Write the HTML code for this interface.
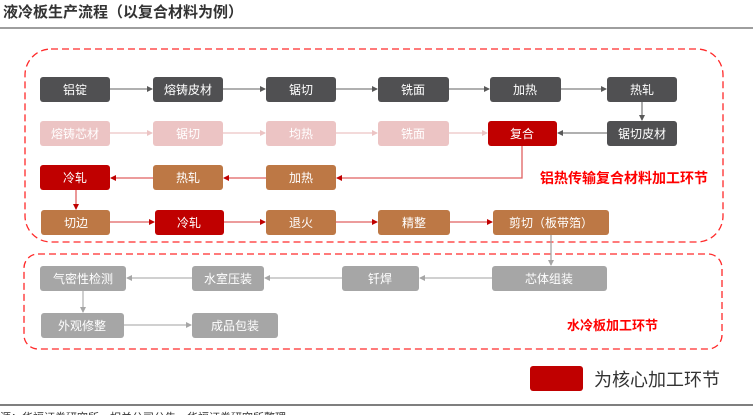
<!DOCTYPE html>
<html><head><meta charset="utf-8"><style>
body{margin:0;width:753px;height:415px;overflow:hidden;background:#fff;font-family:"Liberation Sans","Noto Sans CJK SC",sans-serif}
svg text{font-family:"Liberation Sans","Noto Sans CJK SC",sans-serif}
</style></head><body>
<svg width="753" height="415" viewBox="0 0 753 415" xmlns="http://www.w3.org/2000/svg">
<defs>
<marker id="ag" markerWidth="6" markerHeight="6" refX="5" refY="3" orient="auto" markerUnits="userSpaceOnUse"><path d="M0,0L6,3L0,6z" fill="#595959"/></marker>
<marker id="ap" markerWidth="6" markerHeight="6" refX="5" refY="3" orient="auto" markerUnits="userSpaceOnUse"><path d="M0,0L6,3L0,6z" fill="#ecc4c4"/></marker>
<marker id="ar" markerWidth="6" markerHeight="6" refX="5" refY="3" orient="auto" markerUnits="userSpaceOnUse"><path d="M0,0L6,3L0,6z" fill="#c00000"/></marker>
<marker id="al" markerWidth="6" markerHeight="6" refX="5" refY="3" orient="auto" markerUnits="userSpaceOnUse"><path d="M0,0L6,3L0,6z" fill="#a6a6a6"/></marker>
</defs>
<text x="3" y="17" font-size="15" font-weight="bold" fill="#333">液冷板生产流程（以复合材料为例）</text>
<line x1="0" y1="28" x2="753" y2="28" stroke="#7f7f7f" stroke-width="1.5"/>
<rect x="25" y="49" width="698" height="193" rx="26" fill="none" stroke="#ff2a2a" stroke-width="1.3" stroke-dasharray="7,4"/>
<rect x="24" y="254" width="698" height="95" rx="14" fill="none" stroke="#ff2a2a" stroke-width="1.3" stroke-dasharray="7,4"/>
<g font-size="12" text-anchor="middle">
<g fill="#505052">
<rect x="40" y="77" width="70" height="25" rx="3"/><rect x="153" y="77" width="70" height="25" rx="3"/><rect x="266" y="77" width="70" height="25" rx="3"/><rect x="378" y="77" width="71" height="25" rx="3"/><rect x="490" y="77" width="71" height="25" rx="3"/><rect x="607" y="77" width="70" height="25" rx="3"/><rect x="607" y="121" width="70" height="25" rx="3"/>
</g>
<g fill="#fff"><text x="75" y="94">铝锭</text><text x="188" y="94">熔铸皮材</text><text x="301" y="94">锯切</text><text x="413" y="94">铣面</text><text x="525" y="94">加热</text><text x="642" y="94">热轧</text><text x="642" y="138">锯切皮材</text></g>
<g stroke="#808080" stroke-width="1.3" marker-end="url(#ag)"><line x1="110" y1="89" x2="152" y2="89"/><line x1="223" y1="89" x2="265" y2="89"/><line x1="336" y1="89" x2="377" y2="89"/><line x1="449" y1="89" x2="489" y2="89"/><line x1="561" y1="89" x2="606" y2="89"/><line x1="642" y1="102" x2="642" y2="120"/><line x1="607" y1="133" x2="558" y2="133"/></g>
<g fill="#ecc4c4"><rect x="40" y="121" width="70" height="25" rx="3"/><rect x="153" y="121" width="70" height="25" rx="3"/><rect x="266" y="121" width="70" height="25" rx="3"/><rect x="378" y="121" width="71" height="25" rx="3"/></g>
<g fill="#fff"><text x="75" y="138">熔铸芯材</text><text x="188" y="138">锯切</text><text x="301" y="138">均热</text><text x="413" y="138">铣面</text></g>
<g stroke="#ecc4c4" stroke-width="1.3" marker-end="url(#ap)"><line x1="110" y1="133" x2="152" y2="133"/><line x1="223" y1="133" x2="265" y2="133"/><line x1="336" y1="133" x2="377" y2="133"/><line x1="449" y1="133" x2="487" y2="133"/></g>
<rect x="488" y="121" width="69" height="25" rx="3" fill="#c00000"/><text x="522" y="138" fill="#fff">复合</text>
<polyline points="522,146 522,178 337,178" fill="none" stroke="#e06060" stroke-width="1.3" marker-end="url(#ar)"/>
<rect x="40" y="165" width="70" height="25" rx="3" fill="#c00000"/><rect x="153" y="165" width="70" height="25" rx="3" fill="#bd7845"/><rect x="266" y="165" width="70" height="25" rx="3" fill="#bd7845"/>
<g fill="#fff"><text x="75" y="182">冷轧</text><text x="188" y="182">热轧</text><text x="301" y="182">加热</text></g>
<g stroke="#e06060" stroke-width="1.3" marker-end="url(#ar)"><line x1="266" y1="178" x2="224" y2="178"/><line x1="153" y1="178" x2="111" y2="178"/><line x1="76" y1="190" x2="76" y2="209"/></g>
<rect x="41" y="210" width="69" height="25" rx="3" fill="#bd7845"/><rect x="155" y="210" width="69" height="25" rx="3" fill="#c00000"/><rect x="266" y="210" width="70" height="25" rx="3" fill="#bd7845"/><rect x="378" y="210" width="72" height="25" rx="3" fill="#bd7845"/><rect x="493" y="210" width="116" height="25" rx="3" fill="#bd7845"/>
<g fill="#fff"><text x="76" y="227">切边</text><text x="189" y="227">冷轧</text><text x="301" y="227">退火</text><text x="414" y="227">精整</text><text x="551" y="227">剪切（板带箔）</text></g>
<g stroke="#e06060" stroke-width="1.3" marker-end="url(#ar)"><line x1="110" y1="222" x2="154" y2="222"/><line x1="224" y1="222" x2="265" y2="222"/><line x1="336" y1="222" x2="377" y2="222"/><line x1="450" y1="222" x2="492" y2="222"/></g>
<line x1="551" y1="235" x2="551" y2="265" stroke="#a6a6a6" stroke-width="1.3" marker-end="url(#al)"/>
<g fill="#a6a6a6"><rect x="40" y="266" width="86" height="25" rx="3"/><rect x="192" y="266" width="72" height="25" rx="3"/><rect x="342" y="266" width="77" height="25" rx="3"/><rect x="492" y="266" width="115" height="25" rx="3"/><rect x="41" y="313" width="83" height="25" rx="3"/><rect x="192" y="313" width="86" height="25" rx="3"/></g>
<g fill="#fff"><text x="83" y="283">气密性检测</text><text x="228" y="283">水室压装</text><text x="380" y="283">钎焊</text><text x="549" y="283">芯体组装</text><text x="82" y="330">外观修整</text><text x="235" y="330">成品包装</text></g>
<g stroke="#b5b5b5" stroke-width="1.3" marker-end="url(#al)"><line x1="492" y1="278" x2="420" y2="278"/><line x1="342" y1="278" x2="265" y2="278"/><line x1="192" y1="278" x2="127" y2="278"/><line x1="83" y1="291" x2="83" y2="312"/><line x1="124" y1="325" x2="191" y2="325"/></g>
</g>
<text x="540" y="183" font-size="14" font-weight="bold" fill="#ff0000">铝热传输复合材料加工环节</text>
<text x="567" y="330" font-size="13" font-weight="bold" fill="#ff0000">水冷板加工环节</text>
<rect x="530" y="366" width="53" height="25" rx="3" fill="#c00000"/>
<text x="594" y="386" font-size="18" fill="#333">为核心加工环节</text>
<line x1="0" y1="405" x2="753" y2="405" stroke="#555" stroke-width="1.5"/>
<text x="0" y="421" font-size="11" fill="#333">源：华福证券研究所，相关公司公告，华福证券研究所整理</text>
</svg>
</body></html>
